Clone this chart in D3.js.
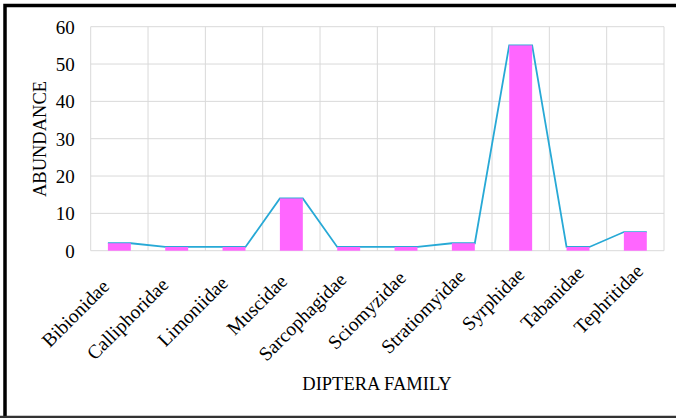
<!DOCTYPE html>
<html>
<head>
<meta charset="utf-8">
<script src="https://cdn.jsdelivr.net/npm/d3@7"></script>
<style>
  html, body { margin: 0; padding: 0; background: #fff; }
  svg { display: block; }
  svg text { font-family: "Liberation Serif", "Times New Roman", serif; fill: #000; }
</style>
</head>
<body>
<svg id="chart" width="676" height="418"></svg>
<script>
// Diptera families and their recorded abundance
const families = ["Bibionidae", "Calliphoridae", "Limoniidae", "Muscidae", "Sarcophagidae",
                  "Sciomyzidae", "Stratiomyidae", "Syrphidae", "Tabanidae", "Tephritidae"];
const abundance = [2, 1, 1, 14, 1, 1, 2, 55, 1, 5];
const yTicks = [0, 10, 20, 30, 40, 50, 60];

const SERIF = "'Liberation Serif', 'Times New Roman', serif";
const svg = d3.select("#chart");
const W = 676, H = 418;
const plot = { left: 90.7, right: 664, top: 26.7, bottom: 250.7 };

// frame around the figure
svg.append("path")
  .attr("d", `M5,${H + 5} L5,5.5 L${W + 5},5.5`)
  .attr("fill", "none").attr("stroke", "#000").attr("stroke-width", 3.5);
svg.append("line")
  .attr("x1", 0).attr("x2", W).attr("y1", 417).attr("y2", 417)
  .attr("stroke", "#333").attr("stroke-width", 2.5);

const x = d3.scaleBand().domain(families).range([plot.left, plot.right]).padding(0);
const y = d3.scaleLinear().domain([0, 60]).range([plot.bottom, plot.top]);

// gridlines
const grid = svg.append("g").attr("stroke", "#d9d9d9").attr("stroke-width", 1);
grid.selectAll("line.h").data(yTicks).join("line")
  .attr("x1", plot.left).attr("x2", plot.right)
  .attr("y1", d => y(d)).attr("y2", d => y(d));
const bounds = families.map(f => x(f)).concat([plot.right]);
grid.selectAll("line.v").data(bounds).join("line")
  .attr("x1", d => d).attr("x2", d => d)
  .attr("y1", plot.top).attr("y2", plot.bottom);

const barW = x.bandwidth() * 0.4;
const barX = f => x(f) + (x.bandwidth() - barW) / 2;

// line tracing the top of each bar and joining neighbours (drawn beneath the bars)
const pts = [];
families.forEach((f, i) => {
  pts.push([barX(f), abundance[i]]);
  pts.push([barX(f) + barW, abundance[i]]);
});
svg.append("path")
  .datum(pts)
  .attr("fill", "none")
  .attr("stroke", "#27a9d6")
  .attr("stroke-width", 1.8)
  .attr("d", d3.line().x(d => d[0]).y(d => y(d[1])));

// bars
svg.append("g").selectAll("rect").data(families).join("rect")
  .attr("x", f => barX(f))
  .attr("y", (f, i) => y(abundance[i]))
  .attr("width", barW)
  .attr("height", (f, i) => y(0) - y(abundance[i]))
  .attr("fill", "#ff66ff");

// y axis labels
const yAxis = d3.axisLeft(y).tickValues(yTicks).tickSize(0).tickPadding(16);
const gy = svg.append("g").attr("transform", `translate(${plot.left},0)`).call(yAxis);
gy.attr("font-family", SERIF);
gy.select(".domain").remove();
gy.selectAll("text").style("font-size", "19px").style("font-family", SERIF).attr("dy", "0.34em");

// x axis labels, slanted at 45 degrees
const xAxis = d3.axisBottom(x).tickSize(0).tickPadding(0);
const gx = svg.append("g").attr("transform", `translate(0,${plot.bottom})`).call(xAxis);
gx.attr("font-family", SERIF);
gx.select(".domain").remove();
gx.selectAll("text")
  .style("font-size", "19.5px").style("font-family", SERIF)
  .attr("text-anchor", "end")
  .attr("dy", "0")
  .attr("transform", (d, i) => `translate(${-9 + 2 * i},${37 - 1.7 * i}) rotate(-45)`);

// axis titles
svg.append("text")
  .attr("transform", `translate(46,139) rotate(-90)`)
  .attr("text-anchor", "middle")
  .style("font-family", SERIF)
  .style("font-size", "18.5px")
  .text("ABUNDANCE");
svg.append("text")
  .attr("x", 377).attr("y", 390)
  .attr("text-anchor", "middle")
  .style("font-family", SERIF)
  .style("font-size", "18.5px")
  .text("DIPTERA FAMILY");
</script>
</body>
</html>
